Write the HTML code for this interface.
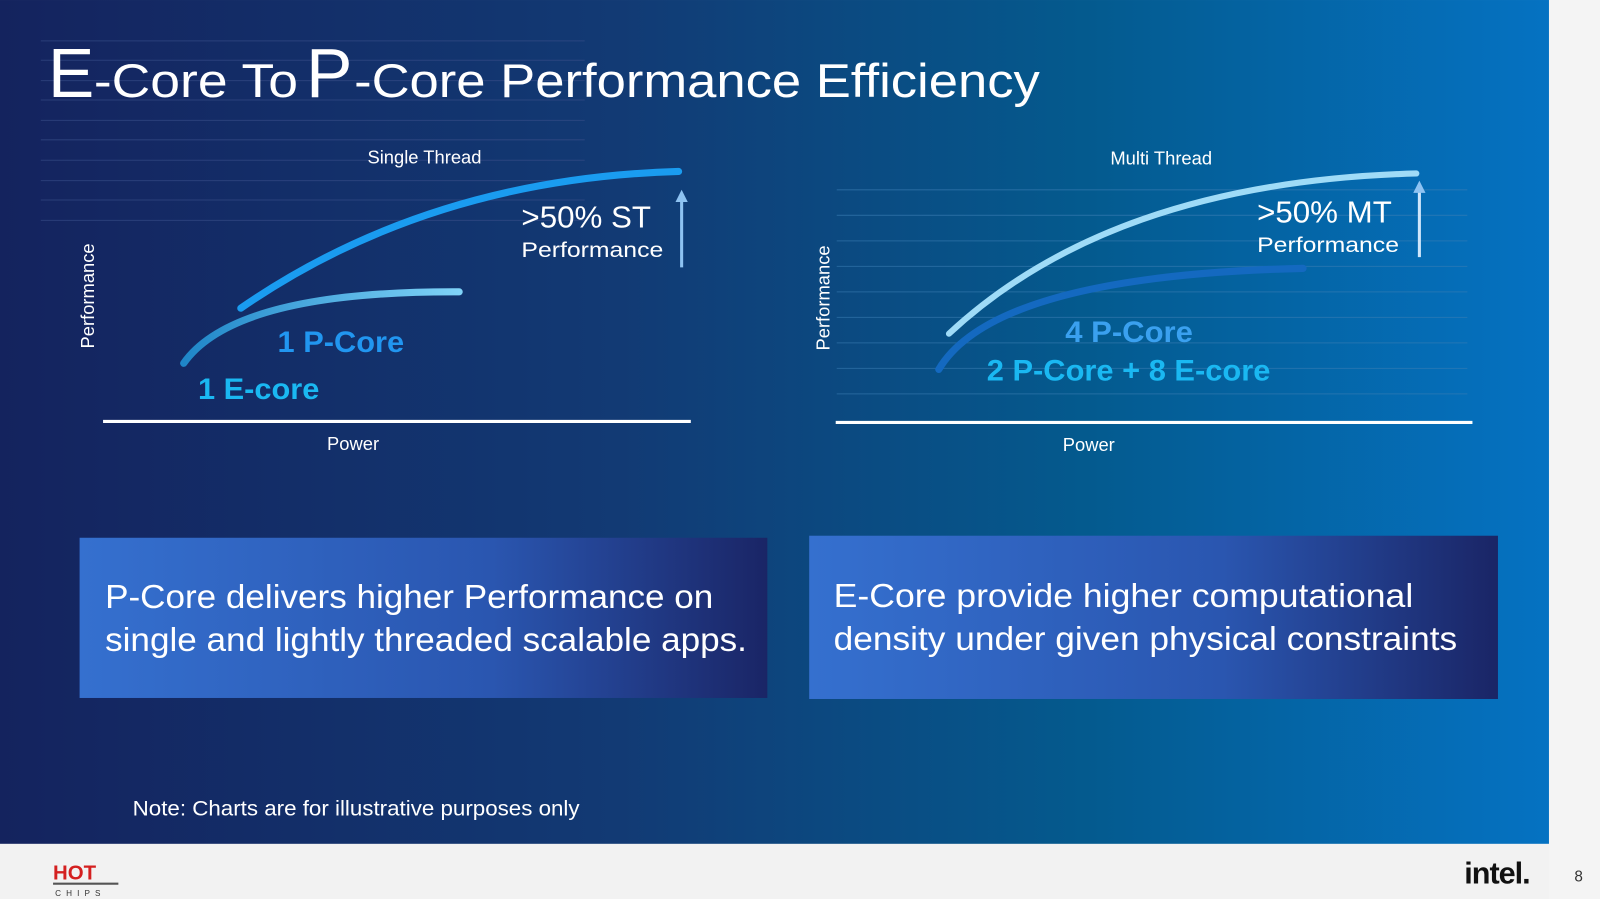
<!DOCTYPE html>
<html><head><meta charset="utf-8"><style>
html,body{margin:0;padding:0;width:1600px;height:899px;overflow:hidden;background:#f2f2f2}
svg{display:block}
text{font-family:"Liberation Sans",sans-serif}
</style></head><body>
<svg width="1600" height="899" viewBox="0 0 1568 881" xmlns="http://www.w3.org/2000/svg">
<defs>
<linearGradient id="bg" x1="0" y1="0" x2="1" y2="0">
<stop offset="0" stop-color="#14235e"/><stop offset="0.4" stop-color="#123a74"/><stop offset="0.7" stop-color="#045a8e"/><stop offset="1" stop-color="#0572c2"/>
</linearGradient>
<linearGradient id="box" x1="0" y1="0" x2="1" y2="0">
<stop offset="0" stop-color="#3570cf"/><stop offset="0.6" stop-color="#2a56b0"/><stop offset="1" stop-color="#1a2566"/>
</linearGradient>
<linearGradient id="ec" x1="0" y1="0" x2="1" y2="0">
<stop offset="0" stop-color="#1f86c8"/><stop offset="1" stop-color="#7fd3f8"/>
</linearGradient>
</defs>
<rect x="0" y="0" width="1518" height="827" fill="url(#bg)"/>
<rect x="1518" y="0" width="50" height="881" fill="#f4f4f4"/>
<rect x="0" y="827" width="1518" height="54" fill="#f2f2f2"/>
<g stroke="#3a4f8a" stroke-width="1" opacity="0.6">
<line x1="40" y1="40" x2="573" y2="40"/><line x1="40" y1="59" x2="573" y2="59"/><line x1="40" y1="79" x2="573" y2="79"/><line x1="40" y1="98" x2="573" y2="98"/><line x1="40" y1="118" x2="573" y2="118"/><line x1="40" y1="137" x2="573" y2="137"/><line x1="40" y1="157" x2="573" y2="157"/><line x1="40" y1="177" x2="573" y2="177"/><line x1="40" y1="196" x2="573" y2="196"/><line x1="40" y1="216" x2="573" y2="216"/>
</g>
<g stroke="#3d7fb5" stroke-width="1" opacity="0.55">
<line x1="820" y1="186" x2="1438" y2="186"/><line x1="820" y1="211" x2="1438" y2="211"/><line x1="820" y1="236" x2="1438" y2="236"/><line x1="820" y1="261" x2="1438" y2="261"/><line x1="820" y1="286" x2="1438" y2="286"/><line x1="820" y1="311" x2="1438" y2="311"/><line x1="820" y1="336" x2="1438" y2="336"/><line x1="820" y1="361" x2="1438" y2="361"/><line x1="820" y1="386" x2="1438" y2="386"/>
</g>
<text x="47" y="95" fill="#fff" font-size="68">E</text>
<text x="92" y="95" fill="#fff" font-size="46" textLength="200" lengthAdjust="spacingAndGlyphs">-Core To</text>
<text x="300" y="95" fill="#fff" font-size="68">P</text>
<text x="347" y="95" fill="#fff" font-size="46" textLength="672" lengthAdjust="spacingAndGlyphs">-Core Performance Efficiency</text>
<!-- left chart -->
<text x="416" y="160" fill="#fff" font-size="18" text-anchor="middle">Single Thread</text>
<text transform="translate(92,290) rotate(-90)" fill="#fff" font-size="18" text-anchor="middle">Performance</text>
<line x1="101" y1="413" x2="677" y2="413" stroke="#fff" stroke-width="3"/>
<text x="346" y="441" fill="#fff" font-size="18" text-anchor="middle">Power</text>
<path d="M180,356 Q230,285 450,286" fill="none" stroke="url(#ec)" stroke-width="7" stroke-linecap="round"/>
<path d="M236,302 Q420,175 665,168" fill="none" stroke="#1a9cf0" stroke-width="7" stroke-linecap="round"/>
<line x1="668" y1="262" x2="668" y2="196" stroke="#8ec3f2" stroke-width="3"/>
<polygon points="668,186 662,198 674,198" fill="#8ec3f2"/>
<text x="511" y="223" fill="#fff" font-size="30" textLength="127" lengthAdjust="spacingAndGlyphs">&gt;50% ST</text>
<text x="511" y="252" fill="#fff" font-size="21" textLength="139" lengthAdjust="spacingAndGlyphs">Performance</text>
<text x="272" y="345" fill="#2196f0" font-size="29" font-weight="bold" textLength="124" lengthAdjust="spacingAndGlyphs">1 P-Core</text>
<text x="194" y="391" fill="#1ab8f2" font-size="29" font-weight="bold" textLength="119" lengthAdjust="spacingAndGlyphs">1 E-core</text>
<!-- right chart -->
<text x="1138" y="161" fill="#fff" font-size="18" text-anchor="middle">Multi Thread</text>
<text transform="translate(813,292) rotate(-90)" fill="#fff" font-size="18" text-anchor="middle">Performance</text>
<line x1="819" y1="414" x2="1443" y2="414" stroke="#fff" stroke-width="3"/>
<text x="1067" y="442" fill="#fff" font-size="18" text-anchor="middle">Power</text>
<path d="M920,362 Q975,270 1277,263" fill="none" stroke="#1469c0" stroke-width="7" stroke-linecap="round"/>
<path d="M930,327 Q1090,178 1388,170" fill="none" stroke="#9fdbf7" stroke-width="6" stroke-linecap="round"/>
<line x1="1391" y1="252" x2="1391" y2="188" stroke="#cfe6fb" stroke-width="3"/>
<polygon points="1391,177 1385,189 1397,189" fill="#8ec3f2"/>
<text x="1232" y="218" fill="#fff" font-size="30" textLength="132" lengthAdjust="spacingAndGlyphs">&gt;50% MT</text>
<text x="1232" y="247" fill="#fff" font-size="21" textLength="139" lengthAdjust="spacingAndGlyphs">Performance</text>
<text x="1044" y="335" fill="#3aa0ef" font-size="29" font-weight="bold" textLength="125" lengthAdjust="spacingAndGlyphs">4 P-Core</text>
<text x="967" y="373" fill="#1ab8f2" font-size="29" font-weight="bold" textLength="278" lengthAdjust="spacingAndGlyphs">2 P-Core + 8 E-core</text>
<!-- boxes -->
<rect x="78" y="527" width="674" height="157" fill="url(#box)"/>
<rect x="793" y="525" width="675" height="160" fill="url(#box)"/>
<text x="103" y="596" fill="#fff" font-size="33" textLength="596" lengthAdjust="spacingAndGlyphs">P-Core delivers higher Performance on</text>
<text x="103" y="638" fill="#fff" font-size="33" textLength="629" lengthAdjust="spacingAndGlyphs">single and lightly threaded scalable apps.</text>
<text x="817" y="595" fill="#fff" font-size="33" textLength="568" lengthAdjust="spacingAndGlyphs">E-Core provide higher computational</text>
<text x="817" y="637" fill="#fff" font-size="33" textLength="611" lengthAdjust="spacingAndGlyphs">density under given physical constraints</text>
<text x="130" y="799" fill="#fff" font-size="21" textLength="438" lengthAdjust="spacingAndGlyphs">Note: Charts are for illustrative purposes only</text>
<!-- footer -->
<text x="52" y="862" fill="#d42020" font-size="20" font-weight="bold" font-family="Liberation Sans">HOT</text>
<line x1="52" y1="866" x2="116" y2="866" stroke="#555" stroke-width="2"/>
<text x="54" y="878" fill="#333" font-size="8" letter-spacing="5">CHIPS</text>
<text x="1435" y="866" fill="#111" font-size="30" font-weight="bold" letter-spacing="-1">intel.</text>
<text x="1547" y="864" fill="#333" font-size="15" text-anchor="middle">8</text>
</svg>
</body></html>
